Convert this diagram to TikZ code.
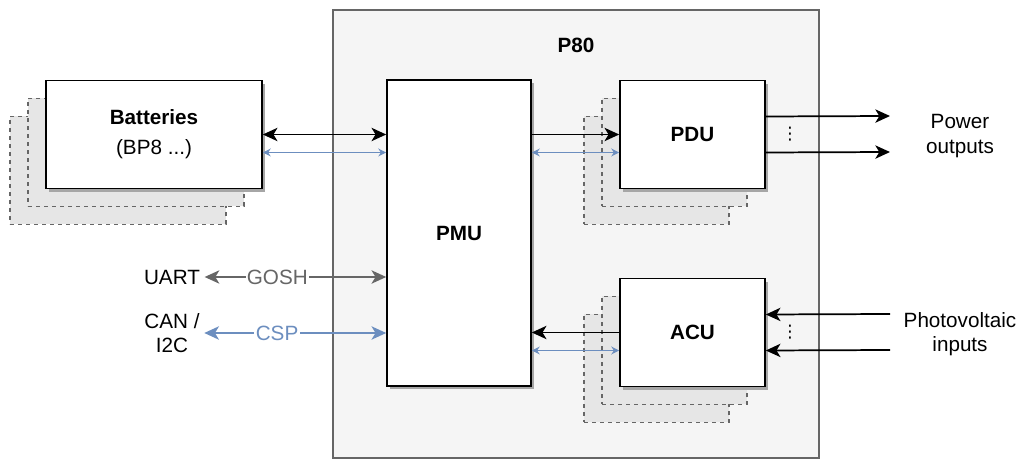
\documentclass[tikz,border=0pt]{standalone}
\usepackage{fontspec}
\setmainfont{Liberation Sans}
\newfontfamily\symfont{DejaVu Sans}
\usetikzlibrary{arrows.meta,shadows}

\definecolor{framefill}{HTML}{F5F5F5}
\definecolor{framedraw}{HTML}{666666}
\definecolor{ghostfill}{HTML}{E6E6E6}
\definecolor{cspblue}{HTML}{6C8EBF}

\newcommand{\diagfont}{\fontsize{15.5}{18.5}\selectfont}

\tikzstyle{unit} = [rectangle, draw, line width=1.2pt, fill=white, font=\diagfont\bfseries, inner sep=0pt,
	drop shadow={shadow xshift=2.5pt, shadow yshift=-2.5pt, fill=black!35, opacity=1}]
\tikzstyle{ghost} = [rectangle, draw=framedraw, dashed, line width=0.9pt, fill=ghostfill, inner sep=0pt,
	minimum height=81pt]
\tikzstyle{power} = [line width=1.3pt]
\tikzstyle{data} = [cspblue, line width=0.8pt, {Stealth[length=6pt,width=6pt,inset=2pt]}-{Stealth[length=6pt,width=6pt,inset=2pt]}]
\tikzstyle{bus} = [line width=1.3pt, <->]
\tikzstyle{dots} = [font=\symfont\fontsize{13}{14}\selectfont, inner sep=0pt]

\begin{document}
\begin{tikzpicture}[x=0.75pt, y=-0.75pt, font=\diagfont,
	>={Stealth[length=11pt,width=10pt,inset=3pt]}]
\useasboundingbox (0,0) rectangle (1021,459);

\node [rectangle, draw=framedraw, line width=1pt, fill=framefill, minimum width=364.5pt, minimum height=336pt] (p80) at (576,234) {};
\node [font=\diagfont\bfseries] (p80label) at (576,45) {P80};

\foreach \u/\x/\y/\w in {bat/154/134.5/162pt, pdu/692.5/134.5/108.75pt, acu/692.5/332.5/108.75pt}{
	\node [ghost, minimum width=\w] (\u-g2) at (\x-36,\y+36) {};
	\node [ghost, minimum width=\w] (\u-g1) at (\x-18,\y+18) {};
}

\node [unit, minimum width=162pt, minimum height=81pt, align=center] (bat) at (154,134.5)
	{Batteries\\[4pt]{\normalfont (BP8 ...)}};
\node [unit, minimum width=108pt, minimum height=229.5pt] (pmu) at (459,233) {PMU};
\node [unit, minimum width=108.75pt, minimum height=81pt] (pdu) at (692.5,134.5) {PDU};
\node [unit, minimum width=108.75pt, minimum height=81pt] (acu) at (692.5,332.5) {ACU};

\node [align=center] (pout) at (960,136) {Power\\outputs};
\node [align=center] (pvin) at (960,334) {Photovoltaic\\inputs};
\node (uart) at (172,277) {UART};
\node [align=center] (can) at (172,333) {CAN /\\I2C};
\node [dots] (pdudots) at (790,134) {⋮};
\node [dots] (acudots) at (790,332) {⋮};

\coordinate (bat-d) at ([yshift=-13.5pt]bat.east);
\coordinate (pdu-d) at ([yshift=-13.5pt]pdu.west);
\coordinate (acu-d) at ([yshift=-13.5pt]acu.west);
\coordinate (pdu-o1) at ([yshift=13.5pt]pdu.east);
\coordinate (pdu-o2) at ([yshift=-13.5pt]pdu.east);
\coordinate (acu-i1) at ([yshift=13.5pt]acu.east);
\coordinate (acu-i2) at ([yshift=-13.5pt]acu.east);
\coordinate (out1) at (890,116);
\coordinate (out2) at (890,152);
\coordinate (in1) at (890,314);
\coordinate (in2) at (890,350);

\draw [bus] (bat.east) -- (bat.east -| pmu.west);
\draw [data] (bat-d) -- (bat-d -| pmu.west);
\draw [power, ->] (pdu.west -| pmu.east) -- (pdu.west);
\draw [data] (pdu-d -| pmu.east) -- (pdu-d);
\draw [power, ->] (acu.west) -- (acu.west -| pmu.east);
\draw [data] (acu-d -| pmu.east) -- (acu-d);

\draw [power, ->] (pdu-o1) -- (out1);
\draw [power, ->] (pdu-o2) -- (out2);
\draw [power, ->] (in1) -- (acu-i1);
\draw [power, ->] (in2) -- (acu-i2);

\draw [bus, framedraw] (uart.east) -- node [pos=0.4, fill=white, inner sep=1pt, text=framedraw] {GOSH} (uart.east -| pmu.west);
\draw [bus, cspblue] (can.east |- can.center) -- node [pos=0.4, fill=white, inner sep=1pt, text=cspblue] {CSP} (can.center -| pmu.west);
\end{tikzpicture}
\end{document}
